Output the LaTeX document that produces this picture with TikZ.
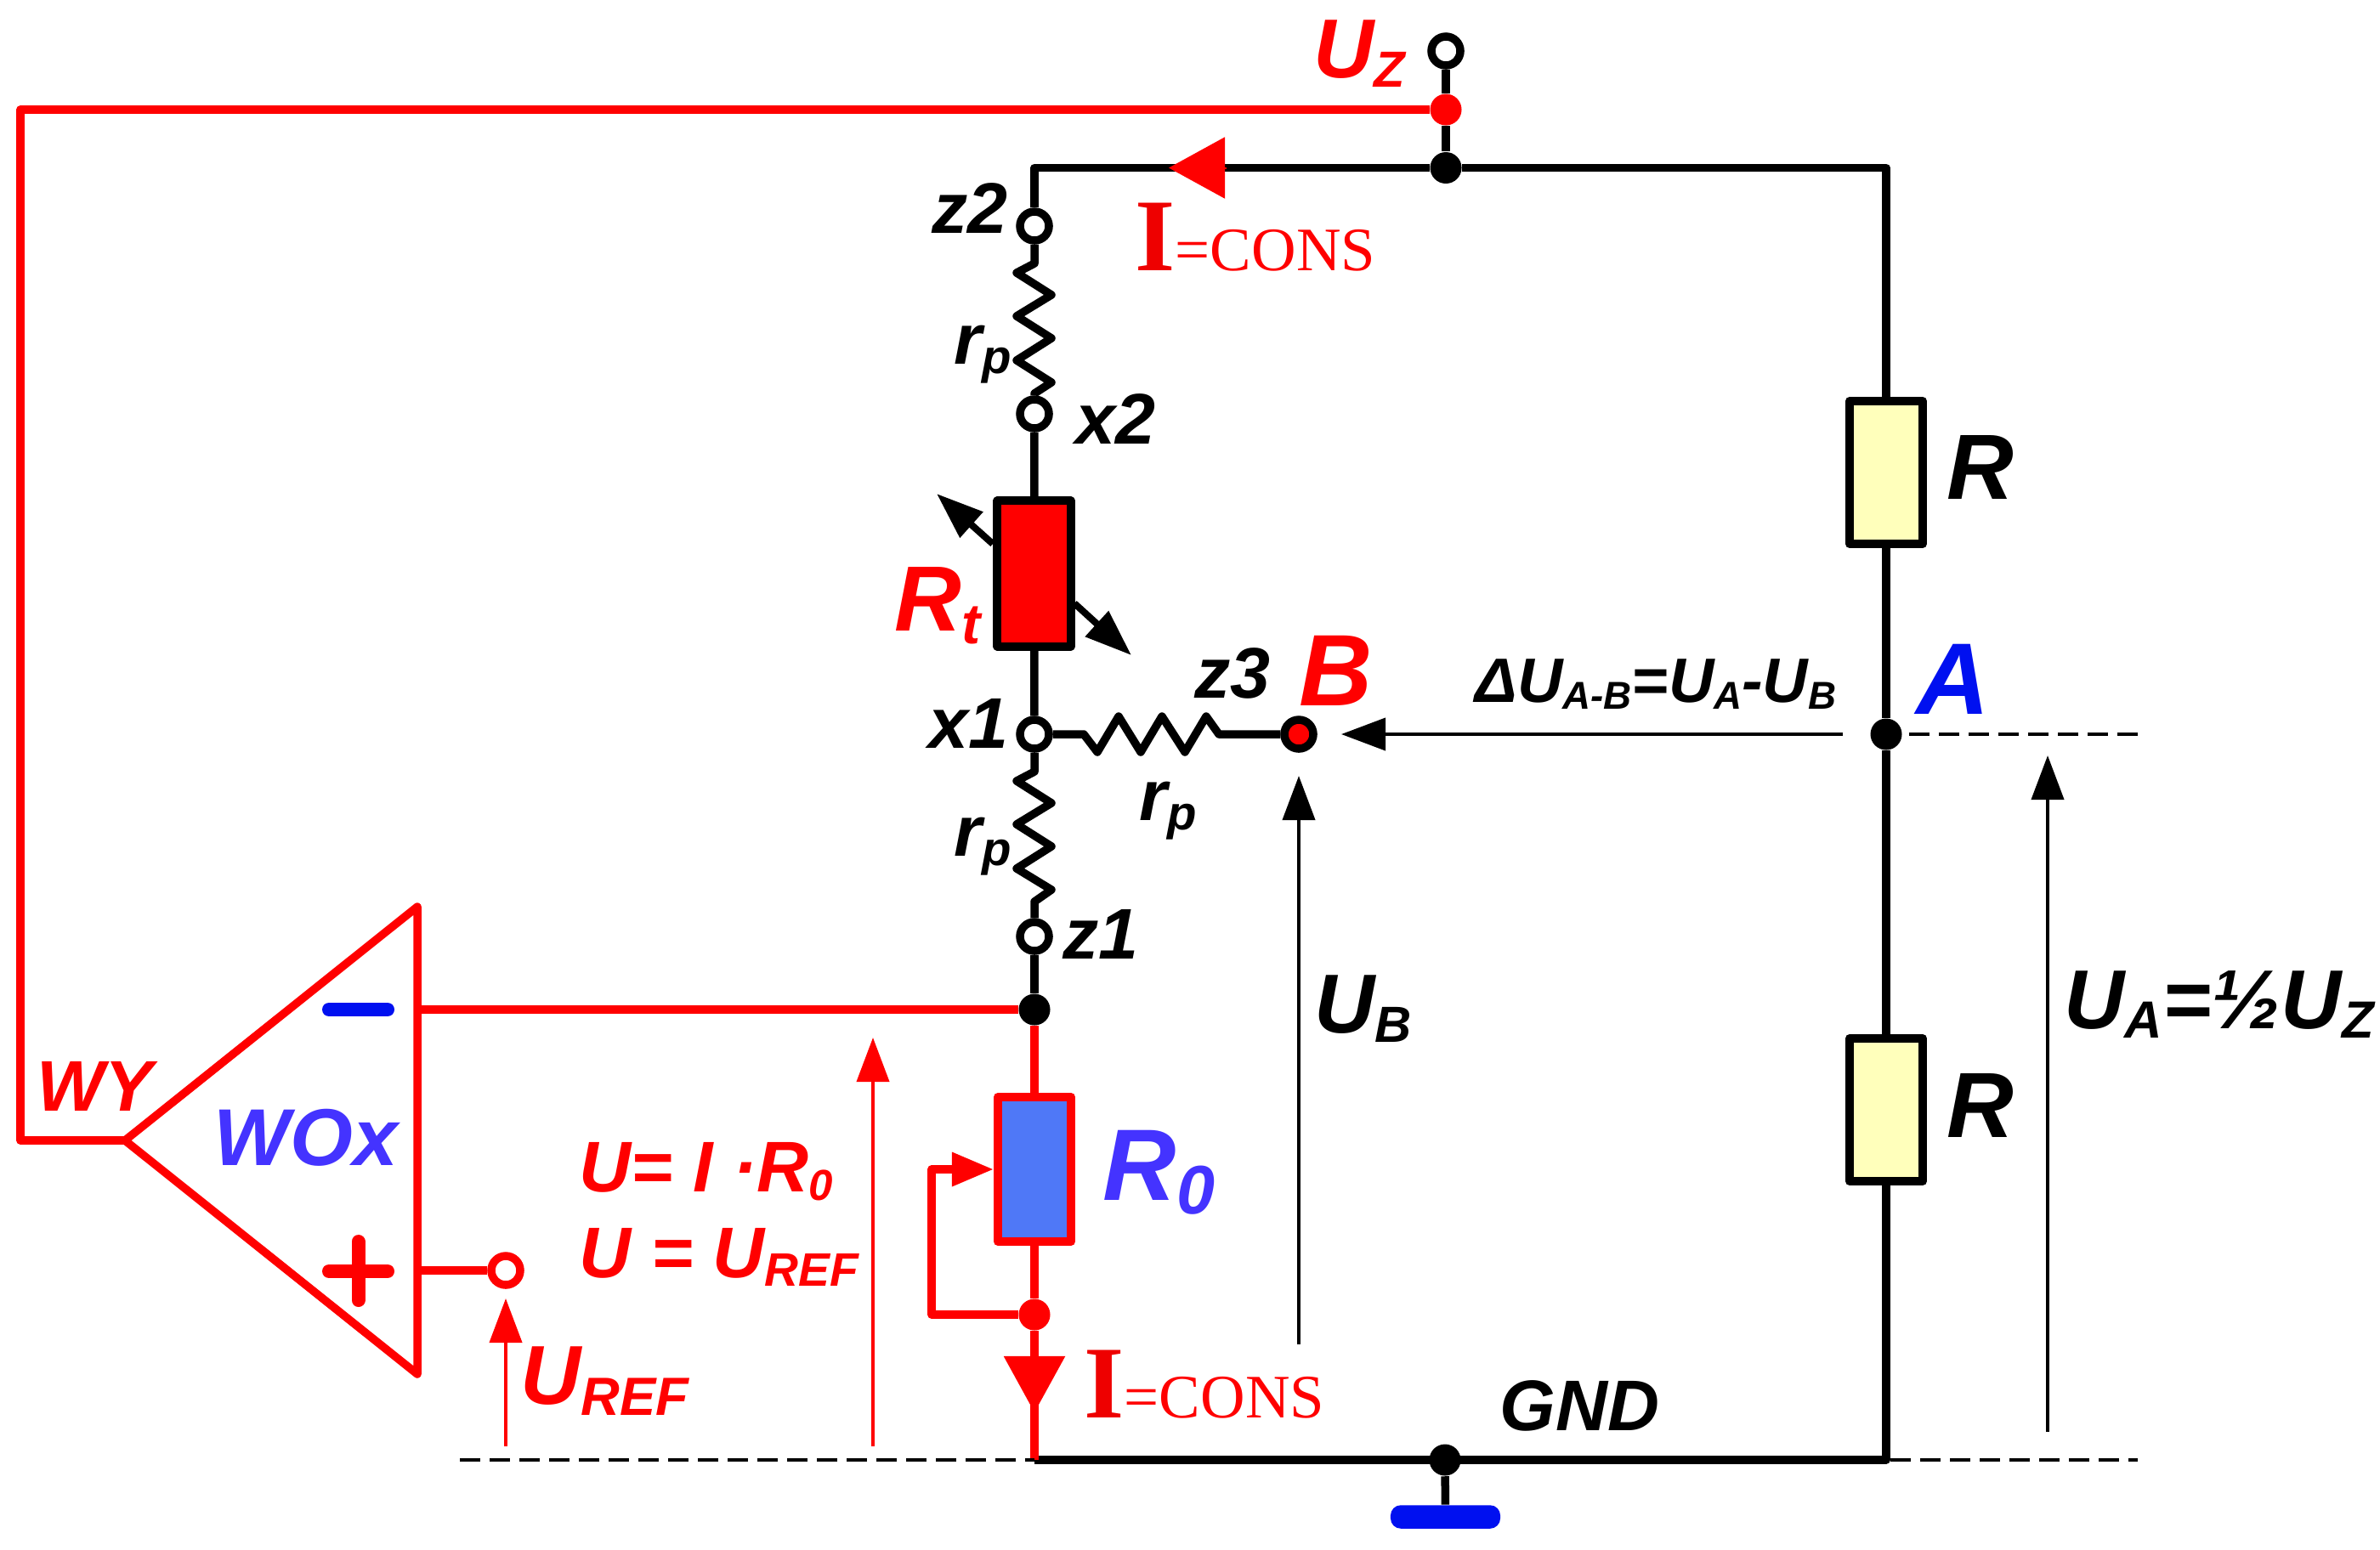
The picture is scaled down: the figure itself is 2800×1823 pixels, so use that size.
\documentclass[tikz,border=0pt]{standalone}
\usepackage{fontspec}
\setmainfont{Liberation Sans}
\newfontfamily\serifface{Liberation Serif}
\usetikzlibrary{arrows.meta}
\definecolor{signal}{HTML}{FF0000}
\definecolor{ired}{HTML}{EE0000}
\definecolor{violet}{HTML}{4433FF}
\definecolor{gndblue}{HTML}{0010F0}
\definecolor{rzero}{HTML}{4F78F7}
\definecolor{rcream}{HTML}{FFFFBB}
\newcommand{\fsz}[1]{\fontsize{#1}{#1}\selectfont}
\newcommand{\lowr}[3]{\raisebox{-#1pt}{\fsz{#2}#3}}
\newcommand{\icons}{{\color{ired}\fsz{34.5}\bfseries I}\fsz{20.7}=CONS}
\tikzset{
	wire/.style={line width=.95mm,line join=round},
	redwire/.style={wire,signal},
	thin arrow/.style={line width=.4mm,-{Triangle[length=5.2mm,width=3.8mm]}},
	sense/.style={line width=.8mm,-{Triangle[length=5.5mm,width=3.9mm]}},
	dashline/.style={line width=.4mm,dash pattern=on 2.4mm off 1.1mm},
	term/.style={circle,draw,line width=.95mm,fill=white,inner sep=0,minimum size=.34cm},
	junction/.style={circle,fill,inner sep=0,minimum size=.37cm},
	res/.style={draw,line width=1mm,line join=round,inner sep=0,minimum width=.86cm},
	lbl/.style={inner sep=0,anchor=base west,font=\bfseries\itshape},
	flow/.style={signal,line width=.2mm,-{Triangle[length=6.6mm,width=7.2mm]}},
	bar/.style={line width=1.6mm,line cap=round}
}
\begin{document}
\begin{tikzpicture}[x=.01cm,y=-.01cm]
	\useasboundingbox (0,0) rectangle (2800,1823);
	% terminals and junctions
	\node[term] (uz) at (1701,60) {};
	\node[junction,signal] (uzred) at (1701,129) {};
	\node[junction] (top) at (1701,197.5) {};
	\node[term] (z2) at (1217,266) {};
	\node[term] (x2) at (1217,487) {};
	\node[term] (x1) at (1217,864) {};
	\node[term] (z1) at (1217,1102) {};
	\node[term,fill=signal] (b) at (1528,864) {};
	\node[junction] (a) at (2219,864) {};
	\node[junction] (fb) at (1217,1188) {};
	\node[junction,signal] (wipe) at (1217,1547) {};
	\node[junction] (gnd) at (1700,1718) {};
	\node[term,signal,fill=white] (uref) at (595,1495) {};
	% resistors
	\node[res,fill=signal,minimum height=1.71cm] (Rt) at (1216.5,675) {};
	\node[res,signal,fill=rzero,minimum height=1.70cm] (R0) at (1217,1376) {};
	\node[res,fill=rcream,minimum height=1.68cm] (Rup) at (2219,556) {};
	\node[res,fill=rcream,minimum height=1.68cm] (Rdn) at (2219,1306) {};
	\node[fill=gndblue,rounded corners=.12cm,inner sep=0,minimum width=1.29cm,minimum height=.275cm] (earth) at (1700.5,1785) {};
	% named corners
	\coordinate (tl) at (1217,197.5);
	\coordinate (tr) at (2219,197.5);
	\coordinate (bl) at (1217,1718);
	\coordinate (br) at (2219,1718);
	\coordinate (amptip) at (147,1342);
	\coordinate (amptop) at (491,1067);
	\coordinate (ampbot) at (491,1617);
	\coordinate (ampminus) at (491,1188);
	\coordinate (ampplus) at (491,1495);
	\coordinate (outtop) at (24,129);
	\coordinate (outbot) at (24,1342);
	% black bridge
	\draw[wire] (uz) -- (uzred) (uzred) -- (top);
	\draw[wire] (z2) -- (tl) -- (top) -- (tr) -- (Rup) (Rup) -- (a) -- (Rdn) (Rdn) -- (br) -- (bl);
	\draw[wire] (gnd) -- (earth);
	\draw[wire] (x2) -- (Rt) (Rt) -- (x1);
	\draw[wire] (z1) -- (fb);
	\draw[wire] (z2) -- (1217,310) -- (1196,321) -- (1237,347) -- (1196,372) -- (1237,398) -- (1196,424) -- (1237,450) -- (1217,463) -- (x2);
	\draw[wire] (x1) -- (1217,908) -- (1196,919) -- (1237,945) -- (1196,970) -- (1237,996) -- (1196,1022) -- (1237,1047) -- (1217,1061) -- (z1);
	\draw[wire] (x1) -- (1275,864) -- (1291,885) -- (1316,843) -- (1342,885) -- (1367,843) -- (1394,885) -- (1419,843) -- (1434,864) -- (b);
	% red loop
	\draw[redwire] (uzred) -- (outtop) -- (outbot) -- (amptip);
	\draw[redwire] (amptip) -- (amptop) -- (ampbot) -- cycle;
	\draw[redwire] (ampminus) -- (fb);
	\draw[redwire] (ampplus) -- (uref);
	\draw[redwire] (fb) -- (R0) (R0) -- (wipe) (wipe) -- (bl);
	\coordinate (wipea) at (1096,1547);
	\coordinate (wipeb) at (1096,1376);
	\draw[redwire,-{Triangle[length=4.9mm,width=3.8mm]}] (wipe) -- (wipea) -- (wipeb) -- (R0.west);
	\draw[bar,gndblue] (387,1188) -- (456,1188);
	\draw[bar,signal] (387,1496) -- (456,1496) (421.5,1461) -- (421.5,1530);
	% current arrows
	\coordinate (ia) at (1443,197.5);
	\coordinate (ib) at (1375,197.5);
	\coordinate (ic) at (1217,1598);
	\coordinate (id) at (1217,1662);
	\draw[flow] (ia) -- (ib);
	\draw[flow] (ic) -- (id);
	% sensor arrows
	\coordinate (sa) at (1168,640);
	\coordinate (sb) at (1102,581);
	\coordinate (sc) at (1264,710);
	\coordinate (sd) at (1331,771);
	\draw[sense] (sa) -- (sb);
	\draw[sense] (sc) -- (sd);
	% voltage arrows
	\coordinate (ab) at (2168,864);
	\coordinate (abt) at (1578,864);
	\coordinate (ub) at (1528,1582);
	\coordinate (ubt) at (1528,913);
	\coordinate (ua) at (2409,1685);
	\coordinate (uat) at (2409,889);
	\coordinate (ur) at (595,1702);
	\coordinate (urt) at (595,1528);
	\coordinate (ui) at (1027,1702);
	\coordinate (uit) at (1027,1221);
	\draw[thin arrow] (ab) -- (abt);
	\draw[thin arrow] (ub) -- (ubt);
	\draw[thin arrow] (ua) -- (uat);
	\draw[thin arrow,signal] (ur) -- (urt);
	\draw[thin arrow,signal] (ui) -- (uit);
	% dashed levels
	\coordinate (d0) at (541,1718);
	\coordinate (d1) at (2224,1718);
	\coordinate (d2) at (2515,1718);
	\coordinate (d3) at (2246,864);
	\coordinate (d4) at (2515,864);
	\draw[dashline] (d0) -- (bl);
	\draw[dashline] (d1) -- (d2);
	\draw[dashline] (d3) -- (d4);
	% labels
	\node[lbl,signal] (luz) at (1545,91) {\fsz{28}U\lowr{3.4}{17}{Z}};
	\node[lbl] (lz2) at (1096,274) {\fsz{24}z2};
	\node[lbl] (lx2) at (1265,522) {\fsz{24}x2};
	\node[lbl] (lx1) at (1092,880) {\fsz{24}x1};
	\node[lbl] (lz1) at (1250,1128) {\fsz{24}z1};
	\node[lbl] (lz3) at (1405,821) {\fsz{24}z3};
	\node[lbl] (lrp1) at (1122,428) {\fsz{24}r\lowr{3.4}{16}{p}};
	\node[lbl] (lrp2) at (1340,965) {\fsz{24}r\lowr{3.4}{16}{p}};
	\node[lbl] (lrp3) at (1122,1007) {\fsz{24}r\lowr{3.4}{16}{p}};
	\node[lbl,signal] (lrt) at (1052,742) {\fsz{31}R\lowr{4.5}{19}{t}};
	\node[lbl,signal] (lb) at (1528,830) {\fsz{34}B};
	\node[lbl,gndblue] (la) at (2254,840) {\fsz{34}A};
	\node[lbl] (lrup) at (2290,587) {\fsz{31}R};
	\node[lbl] (lrdn) at (2290,1338) {\fsz{31}R};
	\node[lbl] (ldu) at (1735,826) {\fsz{21}ΔU\lowr{2.5}{13}{A-B}=U\lowr{2.5}{13}{A}-U\lowr{2.5}{13}{B}};
	\node[lbl] (lua) at (2428,1210) {\fsz{28}U\lowr{3.3}{17.5}{A}=½U\lowr{3.3}{17.5}{Z}};
	\node[lbl] (lub) at (1546,1215) {\fsz{28}U\lowr{3.4}{17}{B}};
	\node[lbl] (lgnd) at (1764,1683) {\fsz{24}GND};
	\node[lbl,signal] (lwy) at (43,1307) {\fsz{24}WY};
	\node[lbl,violet] (lwox) at (251,1371) {\fsz{27}WOx};
	\node[lbl,violet] (lr0) at (1297,1412) {\fsz{34}R\lowr{4.8}{23}{0}};
	\node[lbl,signal] (leq1) at (681,1402) {\fsz{24}U= I ·R\lowr{3}{14.5}{0}};
	\node[lbl,signal] (leq2) at (681,1503) {\fsz{24}U = U\lowr{3}{15.7}{REF}};
	\node[lbl,signal] (lur) at (612,1652) {\fsz{28}U\lowr{3.8}{18}{REF}};
	\node[inner sep=0,anchor=base west,signal,font=\serifface] (li1) at (1335,318) {\icons};
	\node[inner sep=0,anchor=base west,signal,font=\serifface] (li2) at (1275,1668) {\icons};
\end{tikzpicture}
\end{document}
